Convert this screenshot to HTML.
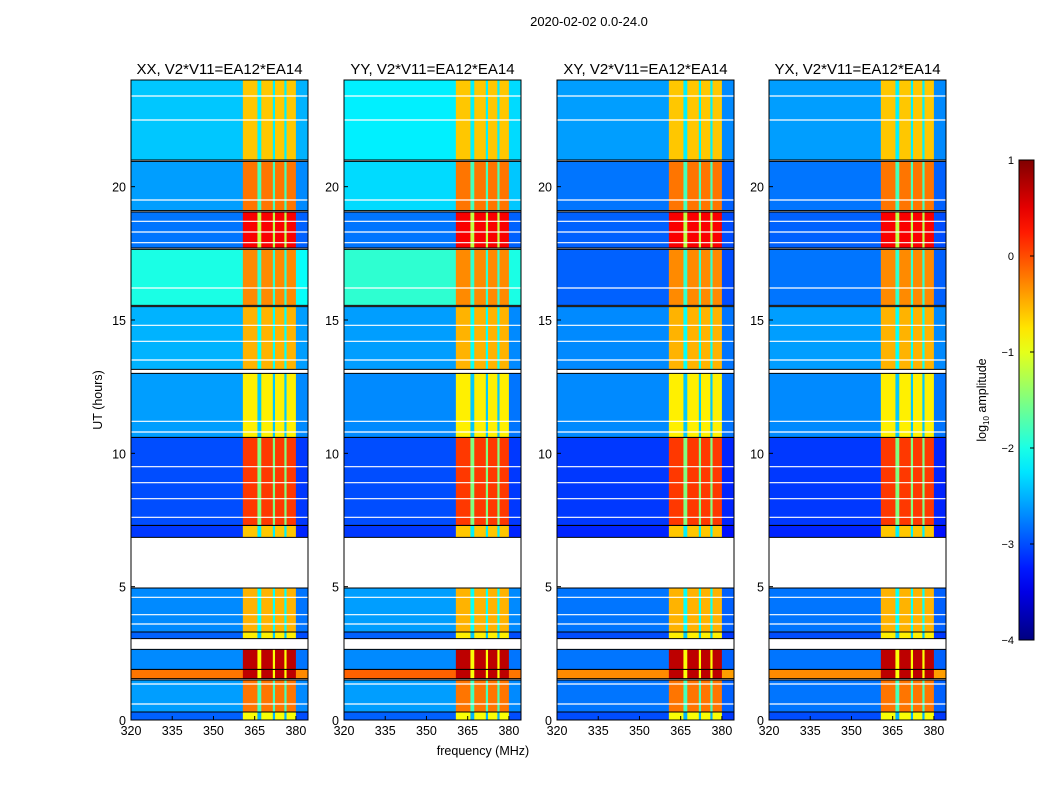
<!DOCTYPE html>
<html><head><meta charset="utf-8"><style>
body{margin:0;background:#fff;}
svg{display:block;font-family:"Liberation Sans",sans-serif;}
</style></head><body>
<svg id="chart" width="1050" height="800">
<text x="589" y="26" font-size="13" text-anchor="middle">2020-02-02 0.0-24.0</text>
<text x="483" y="755" font-size="12.5" text-anchor="middle">frequency (MHz)</text>
<text transform="translate(102,400) rotate(-90)" font-size="12.5" text-anchor="middle">UT (hours)</text>
<g id="panels"></g>
<g id="cbar"></g>
</svg>
<script>
const panelTitles = ["XX, V2*V11=EA12*EA14","YY, V2*V11=EA12*EA14","XY, V2*V11=EA12*EA14","YX, V2*V11=EA12*EA14"];
const panelLefts = [131,344,557,769];
const freqEdges = [320,360.7,366,367.4,371.6,372.4,375.8,376.6,380,384.4];
const bandKind = ["out","in","gap","in","gap","in","gap","in","out"];
const blockStart = [0,0.3,1.55,1.9,3.05,3.3,6.85,7.3,10.6,13.15,15.55,17.7,19.1,21.0];
const blockEnd   = [0.3,1.5,1.9,2.65,3.3,4.95,7.3,10.6,13.0,15.5,17.65,19.05,20.95,24];
const inLevel    = [-0.9,-0.2,0.7,0.7,-0.8,-0.5,-0.6,0.1,-0.8,-0.5,-0.3,0.4,-0.2,-0.6];
const outXX = [-2.9,-2.6,-0.2,-2.7,-2.9,-2.7,-3.1,-3.0,-2.6,-2.5,-2.0,-2.8,-2.6,-2.4];
const outYY = [-2.9,-2.6,-0.1,-2.7,-2.9,-2.6,-3.1,-3.0,-2.7,-2.6,-1.9,-2.8,-2.3,-2.2];
const outXY = [-3.0,-2.8,-0.3,-2.8,-3.0,-2.8,-3.2,-3.1,-2.7,-2.7,-2.9,-2.9,-2.8,-2.6];
const outYX = [-3.0,-2.8,-0.3,-2.8,-3.0,-2.8,-3.2,-3.1,-2.7,-2.6,-2.8,-2.9,-2.8,-2.6];
const outLevels = [outXX,outYY,outXY,outYX];
const whiteLines = [0.6,1.35,3.6,3.95,4.6,7.6,8.3,8.9,9.5,10.8,11.2,13.5,14.2,14.8,16.2,17.9,18.3,18.7,19.5,22.5,23.4];
const yTicks = [0,5,10,15,20];
const xTicks = [320,335,350,365,380];
const cbarTicks = [1,0,-1,-2,-3,-4];

const NS="http://www.w3.org/2000/svg";
function mk(t,a,p){const e=document.createElementNS(NS,t);for(const k in a)e.setAttribute(k,a[k]);p.appendChild(e);return e;}
function jet(v){let t=(v+4)/5;t=Math.max(0,Math.min(1,t));
 const r=Math.max(0,Math.min(1,1.5-Math.abs(4*t-3))),g=Math.max(0,Math.min(1,1.5-Math.abs(4*t-2))),b=Math.max(0,Math.min(1,1.5-Math.abs(4*t-1)));
 return `rgb(${Math.round(r*255)},${Math.round(g*255)},${Math.round(b*255)})`;}
const TOP=80,BOT=720,W=177;
const yS=h=>BOT-(h/24)*(BOT-TOP);
const panels=document.getElementById("panels");
panelTitles.forEach((title,pi)=>{
 const L=panelLefts[pi];
 const xS=f=>L+(f-320)*W/64.4;
 const g=mk("g",{},panels);
 
 
 const outs=outLevels[pi];
 blockStart.forEach((s,bi)=>{
  const e=blockEnd[bi];
  for(let k=0;k<bandKind.length;k++){
   let v=bandKind[k]==="in"?inLevel[bi]:bandKind[k]==="gap"?inLevel[bi]-1.6:outs[bi];
   if(bandKind[k]==="out"&&k===8) v=outs[bi]-0.1;
   const r=mk("rect",{x:xS(freqEdges[k]),y:yS(e),width:xS(freqEdges[k+1])-xS(freqEdges[k])+0.3,height:yS(s)-yS(e),fill:jet(v)},g);
   
   
  }
  mk("line",{x1:L,x2:L+W,y1:yS(s),y2:yS(s),stroke:"#000","stroke-width":1},g);
  mk("line",{x1:L,x2:L+W,y1:yS(e),y2:yS(e),stroke:"#000","stroke-width":1},g);
 });
 whiteLines.forEach(h=>{const l=mk("line",{x1:L,x2:L+W,y1:yS(h),y2:yS(h),stroke:"#fff","stroke-width":1.2},g);
  });
 mk("rect",{x:L,y:TOP,width:W,height:BOT-TOP,fill:"none",stroke:"#000","stroke-width":1},g);
 const t=mk("text",{x:L+W/2,y:74,"font-size":15,"text-anchor":"middle"},g);t.textContent=title;
 
 yTicks.forEach(v=>{const y=yS(v);mk("line",{x1:L,x2:L+4,y1:y,y2:y,stroke:"#000"},g);
  const tt=mk("text",{x:L-5,y:y+5,"font-size":12.5,"text-anchor":"end"},g);tt.textContent=v;
  });
 xTicks.forEach(v=>{const x=xS(v);mk("line",{x1:x,x2:x,y1:BOT,y2:BOT-4,stroke:"#000"},g);
  const tt=mk("text",{x:x,y:BOT+15,"font-size":12.5,"text-anchor":"middle"},g);tt.textContent=v;
  });
});
const cb=document.getElementById("cbar");
const CX=1019,CW=15,CT=160,CB=640;
const cyS=v=>CT+(1-v)/5*(CB-CT);
const defs=mk("defs",{},cb);const gr=mk("linearGradient",{id:"jetg",x1:0,y1:1,x2:0,y2:0},defs);
for(let i=0;i<=20;i++){mk("stop",{offset:i/20,"stop-color":jet(-4+5*i/20)},gr);}
mk("rect",{x:CX,y:CT,width:CW,height:CB-CT,fill:"url(#jetg)",stroke:"#000"},cb);
cbarTicks.forEach(v=>{const y=cyS(v);mk("line",{x1:CX+CW-4,x2:CX+CW,y1:y,y2:y,stroke:"#000"},cb);
 const tt=mk("text",{x:CX-5,y:y+4,"font-size":11,"text-anchor":"end"},cb);tt.textContent=(v<0?"\u2212"+(-v):v);
 });
const lab=mk("text",{transform:"translate(986,400) rotate(-90)","font-size":12.5,"text-anchor":"middle"},cb);
lab.innerHTML='log<tspan font-size="8" dy="3">10</tspan><tspan dy="-3"> amplitude</tspan>';

</script>
</body></html>
